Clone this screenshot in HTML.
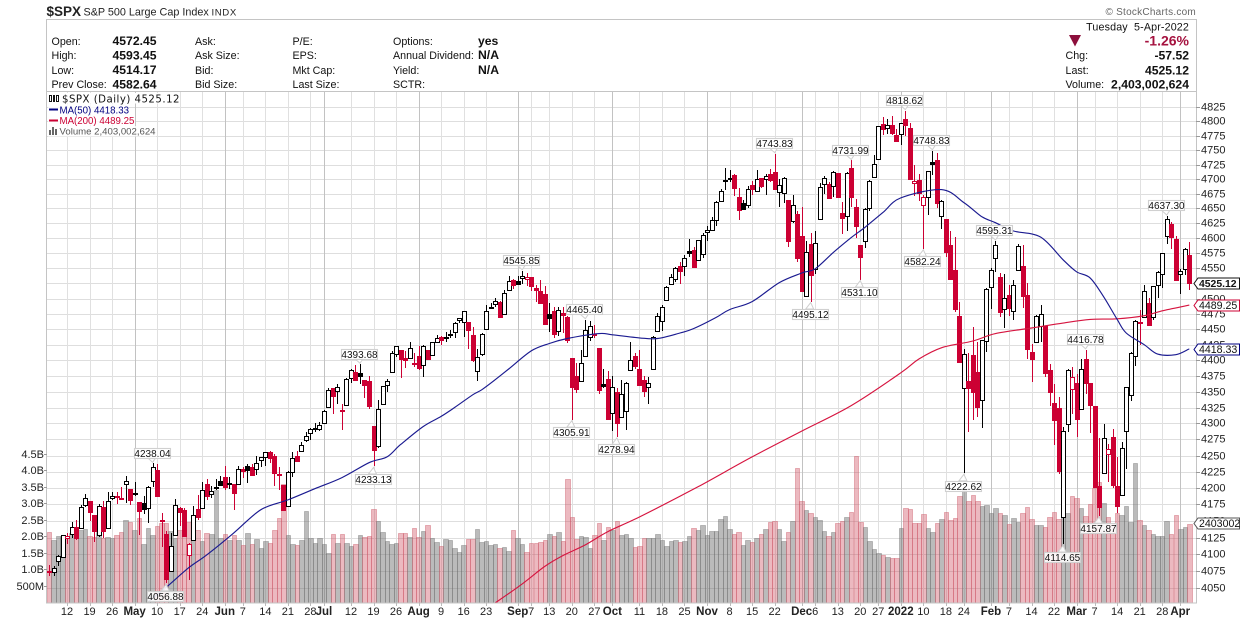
<!DOCTYPE html>
<html lang="en">
<head>
<meta charset="utf-8">
<title>$SPX Daily Chart</title>
<style>
html,body{margin:0;padding:0;background:#fff;}
svg{display:block;font-family:"Liberation Sans",Arial,sans-serif;}
.t{font-size:10.7px;fill:#111;white-space:pre;}
.b{font-size:12.2px;font-weight:bold;fill:#111;}
.r{text-anchor:end;}
</style>
</head>
<body>
<svg id="chart" xmlns="http://www.w3.org/2000/svg" width="1240" height="619" viewBox="0 0 1240 619">
<g>
<text x="46.5" y="16" style="font-size:13.5px;font-weight:bold;fill:#222">$SPX</text>
<text x="83.5" y="15.5" style="font-size:10.8px;fill:#222">S&amp;P 500 Large Cap Index</text>
<text x="211.5" y="15.5" style="font-size:9.6px;letter-spacing:.6px;fill:#222">INDX</text>
<text x="1196" y="15" text-anchor="end" style="font-size:10px;letter-spacing:.25px;fill:#666">© StockCharts.com</text>
</g>
<rect x="46.5" y="19.5" width="1150" height="72" fill="#fff" stroke="#c4c4c4"/>
<g>
<text class="t" x="51.5" y="45">Open:</text><text class="b" x="112.5" y="45">4572.45</text>
<text class="t" x="51.5" y="59">High:</text><text class="b" x="112.5" y="59.5">4593.45</text>
<text class="t" x="51.5" y="74">Low:</text><text class="b" x="112.5" y="74">4514.17</text>
<text class="t" x="51.5" y="88">Prev Close:</text><text class="b" x="112.5" y="88.5">4582.64</text>
<text class="t" x="195" y="45">Ask:</text>
<text class="t" x="195" y="59">Ask Size:</text>
<text class="t" x="195" y="74">Bid:</text>
<text class="t" x="195" y="88">Bid Size:</text>
<text class="t" x="292.5" y="45">P/E:</text>
<text class="t" x="292.5" y="59">EPS:</text>
<text class="t" x="292.5" y="74">Mkt Cap:</text>
<text class="t" x="292.5" y="88">Last Size:</text>
<text class="t" x="393" y="45">Options:</text><text class="b" x="478" y="45">yes</text>
<text class="t" x="393" y="59">Annual Dividend:</text><text class="b" x="478" y="59">N/A</text>
<text class="t" x="393" y="74">Yield:</text><text class="b" x="478" y="74">N/A</text>
<text class="t" x="393" y="88">SCTR:</text>
<text class="t r" x="1189" y="30.5" style="letter-spacing:.15px">Tuesday  5-Apr-2022</text>
<polygon points="1069,35 1081,35 1075,46.5" fill="#8c0f3c"/>
<text class="r" x="1189" y="45.5" style="font-size:14px;font-weight:bold;fill:#a5123f">-1.26%</text>
<text class="t" x="1065.5" y="59">Chg:</text><text class="b r" x="1189" y="59.5">-57.52</text>
<text class="t" x="1065.5" y="74">Last:</text><text class="b r" x="1189" y="74.5">4525.12</text>
<text class="t" x="1065.5" y="88">Volume:</text><text class="b r" x="1189" y="88.5">2,403,002,624</text>
</g>
<defs><clipPath id="plotClip"><rect x="47" y="92" width="1149" height="511"/></clipPath></defs>
<g id="grid" shape-rendering="crispEdges"></g>
<g id="vol" clip-path="url(#plotClip)" shape-rendering="crispEdges"></g>
<g id="candles" clip-path="url(#plotClip)" shape-rendering="crispEdges"></g>
<g id="mas" clip-path="url(#plotClip)"></g>
<rect x="46.5" y="91.5" width="1150" height="511.5" fill="none" stroke="#c4c4c4" shape-rendering="crispEdges"/>
<g id="axes"></g>
<g id="callouts"></g>
<g>
<rect x="48" y="93" width="132" height="10.5" fill="#fff"/>
<rect x="48" y="104" width="81" height="10.5" fill="#fff" fill-opacity=".8"/>
<rect x="48" y="115" width="87" height="10.5" fill="#fff" fill-opacity=".8"/>
<rect x="48" y="126" width="108" height="10.5" fill="#fff" fill-opacity=".8"/>
<g shape-rendering="crispEdges">
<rect x="49.5" y="95.5" width="2" height="6" fill="none" stroke="#111"/>
<rect x="53" y="95" width="2" height="7" fill="#111"/>
<rect x="56.5" y="95.5" width="2" height="6" fill="none" stroke="#111"/>
</g>
<text x="62" y="102.5" style="font-family:'DejaVu Sans',sans-serif;font-size:10.2px;letter-spacing:.48px;fill:#111">$SPX (Daily) 4525.12</text>
<rect x="49" y="108.5" width="9" height="2" fill="#000080"/>
<text x="59.5" y="113.5" style="font-size:9.7px;fill:#000080">MA(50) 4418.33</text>
<rect x="49" y="119.5" width="9" height="2" fill="#cc0033"/>
<text x="59.5" y="124" style="font-size:9.7px;fill:#cc0033">MA(200) 4489.25</text>
<g fill="#666" shape-rendering="crispEdges">
<rect x="49" y="130" width="2" height="5"/>
<rect x="52" y="127" width="2" height="8"/>
<rect x="55" y="129" width="2" height="6"/>
</g>
<text x="59.5" y="134.5" style="font-size:9.6px;fill:#555">Volume 2,403,002,624</text>
</g>
</svg>
<script>
const opens=[4075.57,4074.29,4089.95,4096.11,4124.71,4130.10,4141.58,4139.76,4174.14,4179.80,
4159.18,4128.42,4170.46,4138.78,4185.03,4188.25,4185.14,4206.14,4198.10,4191.98,
4179.04,4177.06,4169.14,4210.34,4228.29,4150.34,4130.55,4074.99,4129.58,4169.92,
4165.94,4098.45,4121.97,4168.61,4170.16,4205.94,4191.59,4201.94,4210.77,4216.52,
4206.82,4206.05,4206.05,4229.34,4233.81,4232.99,4228.56,4242.90,4248.31,4255.28,
4248.87,4220.37,4204.78,4173.40,4224.61,4249.27,4256.97,4274.45,4284.90,4293.21,
4290.65,4300.73,4326.60,4356.46,4351.01,4321.07,4329.38,4372.41,4381.07,4380.11,
4369.02,4367.43,4296.40,4265.11,4331.13,4361.27,4381.20,4409.58,4416.38,4402.95,
4403.59,4395.26,4406.86,4392.74,4415.95,4408.86,4429.07,4437.77,4435.79,4442.18,
4446.08,4464.84,4461.65,4462.12,4440.94,4382.44,4410.56,4450.29,4484.40,4490.45,
4493.75,4474.10,4513.76,4529.75,4528.80,4534.48,4532.42,4535.38,4518.09,4513.02,
4506.92,4474.81,4479.33,4447.49,4477.09,4469.74,4402.95,4374.45,4367.43,4406.75,
4438.04,4442.12,4419.54,4362.44,4370.67,4317.16,4348.84,4309.87,4319.57,4383.73,
4406.51,4385.44,4368.31,4358.01,4386.75,4447.69,4463.72,4497.34,4524.42,4532.24,
4553.69,4553.69,4578.69,4580.22,4562.84,4572.87,4610.62,4613.34,4630.65,4662.93,
4699.26,4701.48,4707.25,4670.26,4659.39,4655.24,4689.30,4679.42,4701.50,4700.72,
4708.44,4712.00,4678.48,4675.78,4664.63,4628.75,4640.25,4602.82,4504.73,4589.49,
4548.37,4631.97,4690.86,4691.00,4687.64,4710.30,4642.99,4636.46,4719.13,4652.50,
4587.90,4594.96,4650.36,4703.96,4733.99,4795.49,4788.64,4794.23,4775.21,4778.14,
4804.51,4787.99,4693.39,4697.66,4655.34,4669.14,4728.59,4733.56,4637.99,4632.24,
4588.03,4547.35,4471.38,4356.32,4366.64,4408.43,4380.58,4336.19,4431.79,4519.57,
4566.39,4535.41,4482.79,4505.75,4480.02,4547.00,4553.24,4506.27,4412.61,4429.28,
4455.75,4456.06,4384.57,4332.74,4324.93,4155.77,4298.38,4354.17,4363.14,4322.56,
4401.31,4363.36,4327.01,4202.66,4223.10,4252.55,4279.50,4202.75,4188.82,4288.14,
4345.11,4407.34,4462.40,4469.10,4493.10,4469.98,4522.91,4541.09,4602.86,4624.20,
4599.02,4540.32,4547.97,4572.45];
const highs=[4083.42,4083.13,4098.19,4129.48,4131.76,4148.00,4151.69,4173.49,4191.31,4180.81,
4159.18,4175.02,4179.57,4194.17,4194.19,4193.35,4201.53,4218.78,4198.10,4209.39,
4179.04,4187.72,4202.70,4238.04,4236.39,4162.04,4134.73,4131.58,4183.13,4171.92,
4169.15,4116.93,4172.80,4188.72,4209.52,4213.42,4202.61,4213.38,4218.36,4234.12,
4217.37,4206.05,4233.45,4232.34,4236.74,4237.09,4249.74,4248.38,4255.59,4257.16,
4251.89,4232.29,4204.78,4226.24,4255.84,4256.60,4271.28,4286.12,4292.14,4300.52,
4302.43,4320.66,4355.43,4356.46,4361.88,4330.88,4371.60,4386.68,4392.37,4393.68,
4369.02,4375.09,4296.40,4336.84,4359.70,4369.87,4415.18,4422.73,4416.38,4415.47,
4429.97,4412.25,4422.18,4423.79,4416.17,4429.76,4440.82,4439.39,4445.21,4449.44,
4461.77,4468.37,4480.26,4462.12,4454.32,4418.61,4444.35,4489.88,4492.81,4501.71,
4495.90,4513.33,4537.36,4531.39,4537.11,4545.85,4541.45,4535.38,4521.79,4529.90,
4520.47,4492.99,4485.68,4486.87,4485.87,4471.52,4402.95,4394.87,4416.75,4465.40,
4463.12,4457.30,4419.54,4385.57,4382.55,4375.19,4355.51,4369.23,4365.57,4429.97,
4412.02,4415.88,4374.89,4372.87,4439.73,4475.82,4488.75,4520.40,4540.87,4551.44,
4559.67,4572.62,4598.53,4584.57,4597.55,4608.08,4620.34,4635.15,4663.46,4683.00,
4718.50,4714.92,4708.53,4684.85,4664.55,4688.47,4697.42,4714.95,4701.50,4708.80,
4717.75,4743.83,4699.39,4702.87,4664.63,4672.95,4646.02,4652.94,4595.46,4608.03,
4612.60,4694.04,4705.06,4695.26,4713.57,4710.30,4660.47,4712.60,4731.99,4666.70,
4587.90,4651.14,4697.67,4740.74,4791.49,4807.02,4804.06,4808.93,4786.83,4796.64,
4818.62,4797.70,4725.01,4707.95,4673.02,4714.13,4748.83,4744.13,4665.13,4632.24,
4611.55,4602.11,4494.52,4417.35,4411.01,4453.23,4428.74,4432.72,4516.89,4550.49,
4595.31,4542.88,4539.66,4521.86,4531.32,4590.03,4588.92,4526.33,4426.22,4472.77,
4489.55,4456.06,4394.60,4362.12,4341.51,4294.73,4385.34,4388.84,4378.45,4401.48,
4416.78,4363.36,4327.01,4276.94,4299.40,4268.28,4291.01,4247.57,4271.05,4357.86,
4412.67,4465.40,4481.75,4522.00,4501.07,4520.58,4546.03,4575.65,4637.30,4627.77,
4603.07,4548.70,4583.50,4593.45];
const lows=[4068.31,4068.31,4082.54,4095.51,4114.82,4124.43,4120.87,4139.76,4170.75,4150.47,
4118.38,4126.35,4123.69,4138.78,4182.36,4176.22,4181.78,4176.81,4174.85,4188.03,
4128.59,4160.94,4147.33,4201.64,4188.13,4111.53,4056.88,4074.99,4129.58,4142.69,
4125.99,4061.41,4121.97,4151.72,4170.16,4182.52,4184.11,4197.78,4203.57,4197.59,
4198.27,4167.34,4206.05,4215.66,4208.41,4218.74,4220.34,4232.25,4234.07,4238.35,
4202.45,4196.89,4164.40,4173.40,4217.27,4241.43,4256.97,4271.16,4274.67,4287.04,
4287.96,4300.73,4326.60,4314.37,4329.79,4289.37,4329.38,4364.03,4366.92,4362.36,
4340.70,4322.53,4233.13,4262.05,4331.13,4350.06,4381.20,4405.45,4372.51,4387.01,
4403.59,4389.65,4384.81,4373.00,4400.23,4408.86,4429.07,4424.74,4430.03,4436.42,
4435.96,4460.82,4437.66,4417.83,4397.59,4367.73,4406.80,4450.29,4482.28,4485.66,
4468.99,4474.10,4513.76,4515.80,4522.02,4524.66,4521.30,4513.00,4493.95,4492.07,
4457.66,4445.70,4435.46,4438.37,4443.80,4427.76,4305.91,4347.96,4367.43,4406.75,
4430.27,4436.19,4346.33,4355.08,4306.00,4288.52,4278.94,4309.87,4290.49,4383.73,
4386.22,4360.59,4342.09,4329.92,4386.75,4447.69,4447.47,4496.41,4524.40,4526.89,
4524.00,4537.36,4569.17,4551.66,4562.84,4567.59,4595.06,4613.34,4621.19,4662.59,
4681.32,4694.39,4670.87,4630.86,4648.31,4650.77,4672.86,4679.42,4684.41,4672.78,
4694.22,4682.17,4652.66,4659.89,4585.43,4625.26,4560.00,4510.27,4504.73,4495.12,
4540.51,4631.97,4674.52,4665.98,4670.24,4667.60,4606.52,4611.22,4652.94,4600.22,
4531.10,4583.16,4645.53,4703.96,4733.99,4775.83,4778.08,4775.33,4765.75,4758.17,
4774.27,4699.44,4671.26,4662.74,4582.24,4638.27,4706.71,4650.29,4614.75,4568.70,
4530.20,4477.95,4395.34,4222.62,4287.11,4304.80,4309.50,4292.46,4414.02,4483.53,
4544.32,4470.39,4451.50,4471.47,4465.40,4547.00,4484.31,4401.41,4364.84,4429.28,
4429.68,4373.81,4327.22,4267.11,4221.51,4114.65,4286.83,4315.12,4279.54,4322.56,
4345.56,4284.98,4199.85,4157.87,4223.10,4209.80,4200.49,4161.72,4187.90,4229.34,
4335.65,4390.57,4424.30,4469.10,4455.81,4465.17,4501.07,4517.69,4589.66,4581.32,
4530.41,4507.57,4539.21,4514.17];
const closes=[4073.94,4079.95,4097.17,4128.80,4127.99,4141.59,4124.66,4170.42,4185.47,4163.26,
4134.94,4173.42,4134.98,4180.17,4187.62,4186.72,4183.18,4211.47,4181.17,4192.66,
4164.66,4167.59,4201.62,4232.60,4188.43,4152.10,4063.04,4112.50,4173.85,4163.29,
4127.83,4115.68,4159.12,4155.86,4197.05,4188.13,4195.99,4200.88,4204.11,4202.04,
4208.12,4192.85,4229.89,4226.52,4227.26,4219.55,4239.18,4247.44,4255.15,4246.59,
4223.70,4221.86,4166.45,4224.79,4246.44,4241.84,4266.49,4280.70,4290.61,4291.80,
4297.50,4319.94,4352.34,4343.54,4358.13,4320.82,4369.55,4384.63,4369.21,4374.30,
4360.03,4327.16,4258.49,4323.06,4358.69,4367.48,4411.79,4422.30,4401.46,4400.64,
4419.15,4395.26,4387.16,4423.15,4402.66,4429.10,4436.52,4432.35,4436.75,4442.41,
4460.83,4468.00,4479.71,4448.08,4400.27,4405.80,4441.67,4479.53,4486.23,4496.19,
4470.00,4509.37,4528.79,4522.68,4524.09,4536.95,4535.43,4520.03,4514.07,4493.28,
4458.58,4468.73,4443.05,4480.70,4473.75,4432.99,4357.73,4354.19,4395.64,4448.98,
4455.48,4443.11,4352.63,4359.46,4307.54,4357.04,4300.46,4345.72,4363.55,4399.76,
4391.34,4361.19,4350.65,4363.80,4438.26,4471.37,4486.46,4519.63,4536.19,4549.78,
4544.90,4566.48,4574.79,4551.68,4596.42,4605.38,4613.67,4630.65,4660.57,4680.06,
4697.53,4701.70,4685.25,4646.71,4649.27,4682.85,4682.80,4700.90,4688.67,4704.54,
4697.96,4682.94,4690.70,4701.46,4594.62,4655.27,4567.00,4513.04,4577.10,4538.43,
4591.67,4686.75,4701.21,4667.45,4712.02,4668.97,4634.09,4709.85,4668.67,4620.64,
4568.02,4649.23,4696.56,4725.79,4791.19,4786.35,4793.06,4778.73,4766.18,4796.56,
4793.54,4700.58,4696.05,4677.03,4670.29,4713.07,4726.35,4659.03,4662.85,4577.11,
4532.76,4482.73,4397.94,4410.13,4356.45,4349.93,4326.51,4431.85,4515.55,4546.54,
4589.38,4477.44,4500.53,4483.87,4521.54,4587.18,4504.08,4418.64,4401.67,4471.07,
4475.01,4380.26,4348.87,4304.76,4225.50,4288.70,4384.65,4373.94,4306.26,4386.54,
4363.49,4328.87,4201.09,4170.70,4277.88,4259.52,4204.31,4173.11,4262.45,4357.86,
4411.67,4463.12,4461.18,4511.61,4456.24,4520.16,4543.06,4575.52,4631.60,4602.45,
4530.41,4545.86,4582.64,4525.12];
const priorClose=4077.91;
const volumes=[2.14,1.91,2.03,2.03,1.98,2.11,2.14,2.21,2.24,2.03,
2.01,2.14,1.96,2.01,1.96,2.06,2.14,2.52,2.46,2.21,
2.59,1.79,2.26,2.06,2.33,2.42,2.41,2.18,1.98,2.2,
2.35,2.45,2.2,2.21,1.88,2.13,2.08,3.42,1.96,2.1,
1.91,2.05,1.91,1.77,2.13,1.8,1.95,1.68,1.87,1.83,
2.22,2.59,3.62,2.05,1.8,1.77,1.9,2.8,1.97,1.83,
1.96,1.8,1.53,2.09,1.82,2.09,1.82,1.72,1.78,2.06,
2.0,2.03,2.85,2.48,2.16,1.88,1.79,1.81,2.11,2.11,
2.01,2.26,1.99,2.18,2.35,1.96,1.86,1.73,1.94,1.91,
1.66,1.55,1.76,1.94,1.94,2.24,1.86,1.89,1.76,1.78,
1.67,1.70,1.58,2.21,1.96,1.79,1.55,1.83,1.83,1.86,
1.91,2.09,2.03,2.15,1.88,3.75,2.6,1.94,2.03,2.0,
1.68,2.06,2.42,1.91,2.3,2.2,2.49,2.06,2.09,1.96,
1.69,1.72,1.96,1.96,1.96,2.08,1.91,1.72,1.88,1.91,
1.84,1.88,2.02,2.26,2.21,2.35,2.06,2.18,2.18,2.55,
2.64,2.23,2.09,2.15,1.75,1.91,1.84,1.96,2.09,2.23,
2.45,2.48,2.23,1.87,2.15,2.5,4.09,3.09,2.81,2.73,
2.6,2.51,2.18,2.02,2.15,2.42,2.5,2.6,2.76,4.45,
2.45,2.3,1.88,1.63,1.52,1.44,1.39,1.35,1.35,2.26,
2.87,2.84,2.42,2.42,2.69,2.26,2.15,2.41,2.54,2.75,
2.52,2.57,3.24,3.5,3.09,3.26,3.08,2.94,2.96,2.72,
2.87,2.72,2.66,2.38,2.57,2.44,2.72,2.9,2.54,2.35,
2.35,2.31,2.6,2.75,2.54,3.6,2.72,3.23,3.17,2.87,
2.63,2.99,3.47,3.67,3.02,2.6,2.41,2.72,2.67,2.94,
2.44,4.23,2.52,2.36,2.21,2.08,2.03,2.03,2.48,2.09,
2.67,2.24,2.30,2.40];
const ma50Bars=[22,26,31,35,41,47,53,59,65,71,75,78,83,87,90,94,96,99,102,107,111,115,122,125,131,135,140,143,148,151,156,162,167,170,174,178,181,185,189,198,203,207,210,214,220,225,228,231,234,237,239,243,246,250,253];
const ma50Values=[4030,4051,4080,4099,4132,4167,4182,4199,4216,4239,4248,4267,4295,4311,4325,4345,4353,4369,4386,4415,4427,4435,4443,4441,4436,4435,4444,4451,4469,4482,4495,4526,4542,4549,4576,4601,4618,4643,4668,4682,4660,4636,4626,4612,4602,4564,4544,4534,4503,4466,4444,4425,4410,4409,4418.33];
const ma200Bars=[99,105,110,114,119,124,131,144,156,167,178,189,193,198,205,210,218,225,231,237,243,247,253];
const ma200Values=[4028,4056,4082,4098,4114,4134,4156,4202,4248,4288,4328,4380,4402,4420,4431,4443,4452,4460,4466,4467,4472,4480,4489.25];
const priceTicks=[4825,4800,4775,4750,4725,4700,4675,4650,4625,4600,4575,4550,4525,4500,4475,4450,4425,4400,4375,4350,4325,4300,4275,4250,4225,4200,4175,4150,4125,4100,4075,4050];
const volumeTicks=[0.5,1,1.5,2,2.5,3,3.5,4,4.5];
const volumeTickLabels=["500M","1.0B","1.5B","2.0B","2.5B","3.0B","3.5B","4.0B","4.5B"];
const dateBars=[4,9,14,19,24,29,34,39,43,48,53,58,61,67,72,77,82,87,92,97,104,107,111,116,121,125,131,136,141,146,151,156,161,167,170,175,180,184,189,194,199,203,209,213,218,223,228,232,237,242,247,251];
const dateLabels=["12","19","26","May","10","17","24","Jun","7","14","21","28","Jul","12","19","26","Aug","9","16","23","Sep","7","13","20","27","Oct","11","18","25","Nov","8","15","22","Dec","6","13","20","27","2022","10","18","24","Feb","7","14","22","Mar","7","14","21","28","Apr"];
const highCallouts=[23,69,105,119,161,178,190,196,210,230,248];
const lowCallouts=[26,72,116,126,169,180,194,203,225,233];

const NS="http://www.w3.org/2000/svg";
const xScale=i=>49+4.507*i;
const yScale=p=>107+2747*Math.log(4825/p);
const volScale=v=>603-33*v;
function make(tag,parent,attrs,txt){
  const e=document.createElementNS(NS,tag);
  for(const k in attrs)e.setAttribute(k,attrs[k]);
  if(txt!==undefined)e.textContent=txt;
  parent.appendChild(e);
  return e;
}
const gridG=document.getElementById('grid');
const volG=document.getElementById('vol');
const candleG=document.getElementById('candles');
const maG=document.getElementById('mas');
const axesG=document.getElementById('axes');
const callG=document.getElementById('callouts');

priceTicks.forEach(p=>{
  const y=Math.round(yScale(p))+.5;
  const line=make('line',gridG,{x1:47,x2:1196,y1:y,y2:y,stroke:'#dedede'});
  
  
  const tick=make('line',axesG,{x1:1196,x2:1200,y1:y,y2:y,stroke:'#999','shape-rendering':'crispEdges'});
  
  
  const lab=make('text',axesG,{x:1201,y:y+3,style:'font-size:11px;fill:#222'},String(p));
  
  
});
volumeTicks.forEach((v,k)=>{
  const y=Math.round(volScale(v))+.5;
  const tick=make('line',axesG,{x1:44,x2:47,y1:y-1,y2:y-1,stroke:'#999','shape-rendering':'crispEdges'});
  
  
  const lab=make('text',axesG,{x:44,y:y+2.6,'text-anchor':'end',style:'font-size:11px;fill:#222'},volumeTickLabels[k]);
  
  
});
dateBars.forEach((b,k)=>{
  const lbl=dateLabels[k];
  const major=/^([A-Z]|2022)/.test(lbl);
  const x=Math.round(xScale(b))+.5;
  const line=make('line',gridG,{x1:x,x2:x,y1:92,y2:603,stroke:major?'#c2c2c2':'#e0e0e0'});
  
  
  const tick=make('line',axesG,{x1:x,x2:x,y1:603,y2:606,stroke:'#bbb','shape-rendering':'crispEdges'});
  
  
  const lab=make('text',axesG,{x:xScale(b),y:615,'text-anchor':'middle',style:'font-size:11px;fill:#222;'+(major?'font-weight:bold;font-size:11.5px':'')},lbl);
  
  
});

volumes.forEach((v,i)=>{
  const prev=i?closes[i-1]:priorClose;
  const down=closes[i]<prev;
  const x0=Math.round(xScale(i)-2.25), x1=Math.round(xScale(i)+2.25);
  const y=Math.round(volScale(v));
  const bar=make('rect',volG,{x:x0+.5,y:y+.5,width:x1-x0,height:603-y,
    fill:down?'rgba(205,70,90,.38)':'rgba(110,110,110,.47)',
    stroke:down?'rgba(205,90,105,.42)':'rgba(110,110,110,.38)','stroke-width':1});
  
  
});

opens.forEach((o,i)=>{
  const c=closes[i],h=highs[i],l=lows[i];
  const prev=i?closes[i-1]:priorClose;
  const col=c<prev?'#cc0033':'#000';
  const hollow=c>=o;
  const rx=Math.round(xScale(i));
  const g=make('g',candleG,{});
  
  
  const wick=make('rect',g,{x:rx,y:Math.round(yScale(h)),width:1,height:Math.max(1,Math.round(yScale(l))-Math.round(yScale(h))),fill:col});
  
  
  const yT=Math.round(yScale(Math.max(o,c))), yB=Math.round(yScale(Math.min(o,c)));
  const bh=Math.max(1,yB-yT);
  const body=hollow
    ? make('rect',g,{x:rx-1.5,y:yT+.5,width:4,height:bh,fill:'#fff',stroke:col,'stroke-width':1})
    : make('rect',g,{x:rx-2,y:yT,width:5,height:bh+1,fill:col});
  
  
});

function linePath(bars,vals){
  const pts=bars.map((b,k)=>[xScale(b),yScale(vals[k])]);
  let d='M'+pts[0][0].toFixed(1)+' '+pts[0][1].toFixed(1);
  for(let k=0;k<pts.length-1;k++){
    const p0=pts[Math.max(0,k-1)],p1=pts[k],p2=pts[k+1],p3=pts[Math.min(pts.length-1,k+2)];
    const c1x=p1[0]+(p2[0]-p0[0])/6,c1y=p1[1]+(p2[1]-p0[1])/6;
    const c2x=p2[0]-(p3[0]-p1[0])/6,c2y=p2[1]-(p3[1]-p1[1])/6;
    d+=' C'+c1x.toFixed(1)+' '+c1y.toFixed(1)+' '+c2x.toFixed(1)+' '+c2y.toFixed(1)+' '+p2[0].toFixed(1)+' '+p2[1].toFixed(1);
  }
  return d;
}
const ma200Line=make('path',maG,{d:linePath(ma200Bars,ma200Values),fill:'none',stroke:'#d6143f','stroke-width':1.15});


const ma50Line=make('path',maG,{d:linePath(ma50Bars,ma50Values),fill:'none',stroke:'#1a1a90','stroke-width':1.15});



function callout(i,val,isHigh){
  const tip=yScale(val);
  const cx=xScale(i)-1;
  const cy=isHigh?tip-10.5:tip+12.5;
  const edge=isHigh?cy+5:cy-5;
  const tipY=isHigh?tip-1:tip+1;
  const g=make('g',callG,{});
  
  
  const ptr=make('polygon',g,{points:`${cx-4},${edge} ${xScale(i)},${tipY} ${cx+4},${edge}`,fill:'#fff','fill-opacity':'.9',stroke:'#cfcfcf'});
  
  
  const box=make('rect',g,{x:Math.round(cx-18)+.5,y:Math.round(cy-5)+.5,width:36,height:10,fill:'#fff','fill-opacity':'.88',stroke:'#d0d0d0','stroke-width':1.1});
  
  
  const t=make('text',g,{x:Math.round(cx)+.5,y:Math.round(cy)+3.8,'text-anchor':'middle',style:'font-size:10px;fill:#111'},val.toFixed(2));
  
  
}
highCallouts.forEach(i=>callout(i,highs[i],true));
lowCallouts.forEach(i=>callout(i,lows[i],false));

function tag(y,txt,col,bold){
  const yy=Math.round(y)+.5;
  const g=make('g',axesG,{});
  
  
  const p=make('polygon',g,{points:`1194,${yy} 1198,${yy-5.5} 1239.5,${yy-5.5} 1239.5,${yy+5.5} 1198,${yy+5.5}`,fill:'#fff',stroke:col,'stroke-width':1});
  
  
  const t=make('text',g,{x:1199,y:yy+3.7,style:(bold?'font-size:10.4px;font-weight:bold':'font-size:10.6px')+';fill:#111'},txt);
  
  
}
tag(yScale(ma50Values[ma50Values.length-1]),ma50Values[ma50Values.length-1].toFixed(2),'#000080',false);
tag(yScale(ma200Values[ma200Values.length-1]),ma200Values[ma200Values.length-1].toFixed(2),'#cc0033',false);
tag(yScale(closes[closes.length-1]),closes[closes.length-1].toFixed(2),'#111',true);
tag(volScale(volumes[volumes.length-1])-1,'2403002','#555',false);
</script>
</body>
</html>
